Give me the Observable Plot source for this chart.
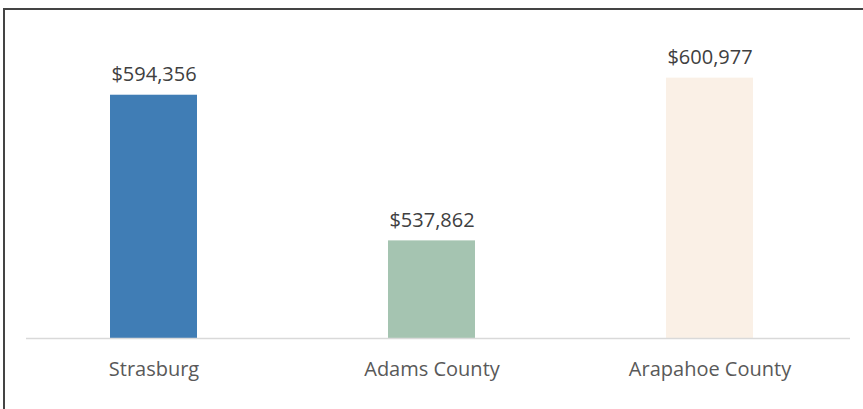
<!DOCTYPE html>
<html>
<head>
<meta charset="utf-8">
<script src="https://cdn.jsdelivr.net/npm/d3@7"></script>
<script src="https://cdn.jsdelivr.net/npm/@observablehq/plot@0.6"></script>
<style>
  html, body { margin: 0; padding: 0; background: #fff; }
  #wrap { position: relative; width: 863px; height: 409px; overflow: hidden; }
  #frame { position: absolute; left: 3px; top: 8px; width: 900px; height: 450px;
           border-left: 2px solid #444; border-top: 2px solid #444; pointer-events: none; }
</style>
</head>
<body>
<div id="wrap"><div id="frame"></div></div>
<script>
const categories = ["Strasburg", "Adams County", "Arapahoe County"];
const values = [594356, 537862, 600977];
const colors = ["#407DB5", "#A5C4B1", "#FAF0E6"];

const data = categories.map((c, i) => ({category: c, value: values[i], color: colors[i]}));
const fmt = v => "$" + d3.format(",")(v);

const chart = Plot.plot({
  width: 863,
  height: 409,
  marginLeft: 26,
  marginRight: 13,
  marginTop: 20,
  marginBottom: 71,
  style: {fontFamily: "'Open Sans', sans-serif", background: "transparent"},
  x: {domain: categories, range: [15, 849], paddingInner: 0.687, paddingOuter: 0.3435, label: null, axis: null},
  y: {domain: [500000, 620000], range: [338, 28.6], axis: null},
  marks: [
    Plot.barY(data, {x: "category", y1: 500000, y2: "value", fill: "color"}),
    Plot.ruleY([500000], {stroke: "#d9d9d9", strokeWidth: 1.5}),
    Plot.text(data, {x: "category", y: "value", text: d => fmt(d.value), dy: -14, lineAnchor: "bottom",
      fontSize: 20, fill: "#404040", fontWeight: 500}),
    Plot.text(data, {x: "category", y: 500000, text: "category", dy: 37, lineAnchor: "bottom",
      fontSize: 20, fill: "#595959", fontWeight: 500})
  ]
});
document.getElementById("wrap").prepend(chart);
</script>
</body>
</html>
